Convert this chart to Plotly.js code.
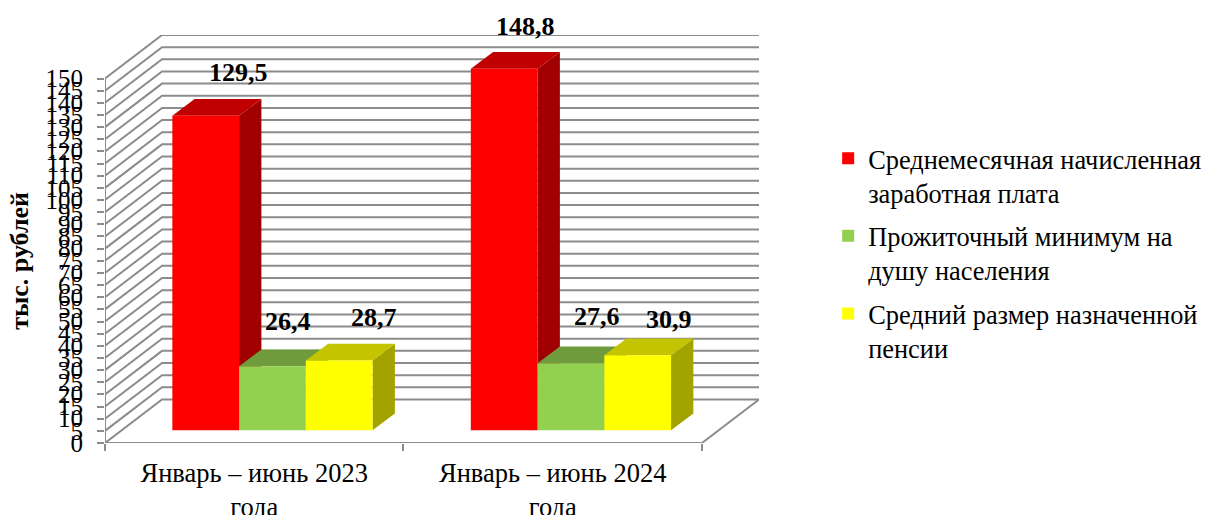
<!DOCTYPE html>
<html>
<head>
<meta charset="utf-8">
<script src="https://cdn.plot.ly/plotly-3.0.1.min.js"></script>
<style>html,body{margin:0;padding:0;background:#fff}#chart{width:1207px;height:515px}</style>
</head>
<body>
<div id="chart"></div>
<script>
const categories = ["Январь – июнь 2023<br>года", "Январь – июнь 2024<br>года"];
const seriesNames = ["Среднемесячная начисленная<br>заработная плата", "Прожиточный минимум на<br>душу населения", "Средний размер назначенной<br>пенсии"];
const salary = [129.5, 148.8];
const minimum = [26.4, 27.6];
const pension = [28.7, 30.9];
const tickValues = [0,5,10,15,20,25,30,35,40,45,50,55,60,65,70,75,80,85,90,95,100,105,110,115,120,125,130,135,140,145,150];
const frontColors = ["#FF0000", "#92D050", "#FFFF00"];
const topColors = ["#C00000", "#6F9B3C", "#C4C400"];
const sideColors = ["#A00000", "#5E8232", "#A3A300"];
// label offsets from the bar's top centre, in screen pixels
const labelDx = [[33, 21], [16, 26], [35, 31]];
const labelDy = [[43, 42], [45, 47], [43, 36]];

const allSeries = [salary, minimum, pension];
const unitPx = 298.3, valPx = 2.428;
const wallX = 57 / unitPx, wallY = 43.5 / valPx;
const barDx0 = 18.2 / unitPx, barDy0 = 12.7 / valPx;
const barDx = 22.3 / unitPx, barDy = 16.7 / valPx;
const barW = 66.7 / unitPx;
const gray = "#8C8C8C";
const xTop = 2 + wallX, yTop = 150 + wallY;

function barX(g, s) { return g + 0.5 + barDx0 + (s - 1) * barW; }

const traces = [];
// walls and floor
const wx = [], wy = [];
tickValues.forEach(v => {
  wx.push(0, wallX, xTop, null);
  wy.push(v, v + wallY, v + wallY, null);
});
wx.push(2, xTop, null); wy.push(0, wallY, null);
traces.push({type:"scatter", mode:"lines", x:wx, y:wy, cliponaxis:false, showlegend:false, hoverinfo:"skip",
  line:{color:gray, width:2}});
// front axis lines
traces.push({type:"scatter", mode:"lines", x:[0,0,2], y:[150,0,0], cliponaxis:false, showlegend:false, hoverinfo:"skip",
  line:{color:gray, width:2}});
// depth faces: sides and tops, left to right
allSeries.forEach((vals, s) => {
  const sx = [], sy = [], tx = [], ty = [];
  vals.forEach((v, g) => {
    const c = barX(g, s), l = c - barW / 2, r = c + barW / 2, y0 = barDy0, y1 = barDy0 + v;
    sx.push(r, r + barDx, r + barDx, r, r, null);
    sy.push(y0, y0 + barDy, y1 + barDy, y1, y0, null);
    tx.push(l, l + barDx, r + barDx, r, l, null);
    ty.push(y1, y1 + barDy, y1 + barDy, y1, y1, null);
  });
  traces.push({type:"scatter", mode:"lines", x:sx, y:sy, fill:"toself", fillcolor:sideColors[s],
    line:{width:0}, showlegend:false, hoverinfo:"skip", cliponaxis:false});
  traces.push({type:"scatter", mode:"lines", x:tx, y:ty, fill:"toself", fillcolor:topColors[s],
    line:{width:0}, showlegend:false, hoverinfo:"skip", cliponaxis:false});
});
// front faces, on the overlaying axes so they cover every depth face
allSeries.forEach((vals, s) => {
  traces.push({type:"bar", name:seriesNames[s], legendgroup:"s"+s, xaxis:"x2", yaxis:"y2",
    x:vals.map((v, g) => barX(g, s)), y:vals, base:vals.map(() => barDy0), width:barW,
    marker:{color:frontColors[s], line:{width:0}}, cliponaxis:false});
});

const annotations = [];
allSeries.forEach((vals, s) => vals.forEach((v, g) => {
  annotations.push({xref:"x2", yref:"y2", x:barX(g, s), y:barDy0 + v, text:"<b>" + v.toFixed(1).replace(".", ",") + "</b>",
    showarrow:false, xanchor:"center", yanchor:"middle", xshift:labelDx[s][g], yshift:labelDy[s][g],
    font:{family:"Liberation Serif", size:26, color:"#000"}});
}));
annotations.push({xref:"paper", yref:"paper", x:(20-105.3)/653.6, y:(442.7-261)/407.7, text:"<b>тыс. рублей</b>",
  showarrow:false, textangle:-90, xanchor:"center", yanchor:"middle",
  font:{family:"Liberation Serif", size:26, color:"#000"}});

const layout = {
  width:1207, height:515, autosize:false,
  margin:{l:105.3, r:448.1, t:35, b:72.3, pad:0, autoexpand:false},
  paper_bgcolor:"#fff", plot_bgcolor:"#fff",
  font:{family:"Liberation Serif", color:"#000"},
  barmode:"overlay",
  showlegend:true,
  xaxis:{type:"linear", range:[0, xTop], tickmode:"array", tickvals:[0,1,2], ticktext:["","",""],
    ticks:"outside", ticklen:7, tickwidth:2, tickcolor:gray, showgrid:false, zeroline:false, showline:false},
  yaxis:{type:"linear", range:[0, yTop], tickmode:"array", tickvals:tickValues, ticktext:tickValues.map(String),
    ticks:"outside", ticklen:7, tickwidth:2, tickcolor:gray, showgrid:false, zeroline:false, showline:false,
    ticklabelstandoff:9, tickfont:{family:"Liberation Serif", size:25, color:"#000"}},
  xaxis2:{type:"linear", overlaying:"x", anchor:"y2", range:[0, xTop], tickmode:"array", tickvals:[0.5,1.5], ticktext:categories,
    ticks:"", showgrid:false, zeroline:false, showline:false, ticklabelstandoff:11,
    tickfont:{family:"Liberation Serif", size:26.5, color:"#000"}},
  yaxis2:{type:"linear", overlaying:"y", anchor:"x2", range:[0, yTop], visible:false, showgrid:false, zeroline:false},
  legend:{x:(828-105.3)/653.6, xanchor:"left", y:(442.7-134.5)/407.7, yanchor:"top", valign:"top",
    bgcolor:"rgba(0,0,0,0)", tracegroupgap:6, itemclick:false, itemdoubleclick:false,
    font:{family:"Liberation Serif", size:26.4, color:"#000"}},
  annotations:annotations
};
Plotly.newPlot("chart", traces, layout, {displayModeBar:false, responsive:false});
</script>
</body>
</html>
